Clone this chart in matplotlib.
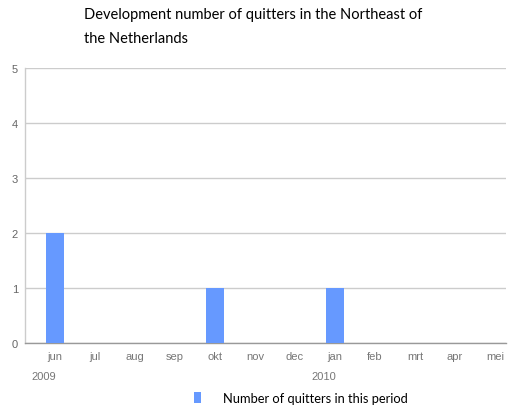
import matplotlib
matplotlib.use("Agg")
import matplotlib.pyplot as plt

months = ["jun", "jul", "aug", "sep", "okt", "nov", "dec", "jan", "feb", "mrt", "apr", "mei"]
quitters = [2, 0, 0, 0, 1, 0, 0, 1, 0, 0, 0, 0]
years = ["2009", "2010"]
year_month_index = [0, 7]
y_ticks = [0, 1, 2, 3, 4, 5]
title = "Development number of quitters in the Northeast of\nthe Netherlands"
series_name = "Number of quitters in this period"

W, H = 508, 410
fig = plt.figure(figsize=(W / 100, H / 100), dpi=100)
ax = fig.add_axes([25 / W, 1 - 344 / H, 481 / W, 275 / H])

x = list(range(len(months)))
bars = ax.bar(x, quitters, width=0.44, color="#6699ff", zorder=3, label=series_name)

ax.set_xlim(-0.75, 11.275)
ax.set_ylim(0, 5)
ax.set_yticks(y_ticks)
ax.set_yticklabels([str(v) for v in y_ticks], fontsize=8, color="#666666", family="Liberation Sans")
ax.set_xticks(x)
ax.set_xticklabels(months, fontsize=8, color="#777777", family="Liberation Sans")
ax.tick_params(axis="both", length=0)
ax.tick_params(axis="x", pad=6)
ax.tick_params(axis="y", pad=5)

ax.grid(axis="y", color="#cccccc", linewidth=1, zorder=0)
for s in ["top", "right"]:
    ax.spines[s].set_visible(False)
ax.spines["left"].set_color("#cccccc")
ax.spines["bottom"].set_color("#999999")
ax.spines["left"].set_linewidth(1)
ax.spines["bottom"].set_linewidth(1)

for yr, mi in zip(years, year_month_index):
    ax.annotate(yr, xy=(mi, 0), xycoords=("data", "axes fraction"),
                xytext=(-11, -33), textcoords="offset pixels", ha="center", va="center",
                fontsize=8, color="#777777", family="Liberation Sans")

fig.text(84 / W, 1 - 8 / H, title, ha="left", va="top", fontsize=10.5, family="Lato",
         color="#000000", linespacing=1.95)

fig.legend(handles=[bars], labels=[series_name], loc="center left",
           bbox_to_anchor=(182 / W, 1 - 399 / H), frameon=False,
           prop={"family": "Lato", "size": 9.3}, handlelength=0.6, handleheight=0.9,
           handletextpad=1.7)

fig.savefig("out.png", dpi=100)
